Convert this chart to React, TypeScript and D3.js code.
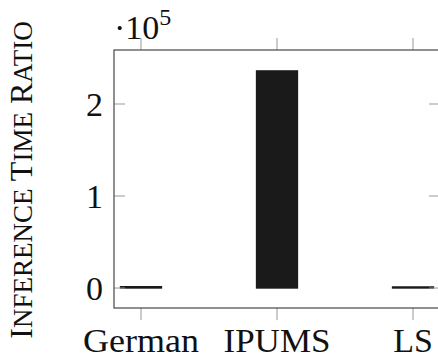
import * as d3 from "d3";

const categories = ["German", "IPUMS", "LS"];
const ratios = [1500, 236000, 1200];
const yTicks = [0, 1, 2];
const yLabelWords = ["Inference", "Time", "Ratio"];

const W = 438;
const H = 360;
const frame = { left: 114, right: 440, top: 50, bottom: 308 };
const font = "'Liberation Serif', 'Times New Roman', serif";
const barColor = "#1a1a1a";

export default function App() {
  const x = d3
    .scalePoint<string>()
    .domain(categories)
    .range([frame.left, frame.right])
    .padding(0.1985);
  // y in units of 1e5
  const y = d3.scaleLinear().domain([-0.217, 2.587]).range([frame.bottom, frame.top]);
  const barW = 41;

  return (
    <svg
      width={W}
      height={H}
      style={{ position: "absolute", left: 0, top: 0, background: "#fff" }}
      fontFamily={font}
    >
      {/* bars */}
      {categories.map((c, i) => {
        const v = ratios[i] / 1e5;
        const top = y(v);
        return (
          <rect
            key={c}
            x={x(c)! - barW / 2}
            y={top}
            width={barW}
            height={y(0) - top}
            fill={barColor}
            stroke={barColor}
            strokeWidth={1.3}
          />
        );
      })}

      {/* y ticks, inside on both sides */}
      {yTicks.map((t) => (
        <g key={t}>
          <line x1={frame.left} x2={frame.left + 11} y1={y(t)} y2={y(t)} stroke="#999" strokeWidth={1} />
          <line x1={frame.right - 11} x2={frame.right} y1={y(t)} y2={y(t)} stroke="#999" strokeWidth={1} />
          <text x={103} y={y(t)} dy="0.34em" textAnchor="end" fontSize={34} fill="#111">
            {t}
          </text>
        </g>
      ))}

      {/* x ticks, outside top and bottom */}
      {categories.map((c) => (
        <g key={c}>
          <line x1={x(c)} x2={x(c)} y1={frame.bottom} y2={frame.bottom + 12} stroke="#999" strokeWidth={1} />
          <line x1={x(c)} x2={x(c)} y1={frame.top - 12} y2={frame.top} stroke="#999" strokeWidth={1} />
          <text
            x={x(c)}
            y={352}
            textAnchor="middle"
            fontSize={34}
            fill="#111"
            textLength={c === "German" ? 116 : c === "IPUMS" ? 107 : undefined}
            lengthAdjust="spacingAndGlyphs"
          >
            {c}
          </text>
        </g>
      ))}

      {/* frame */}
      <rect
        x={frame.left}
        y={frame.top}
        width={frame.right - frame.left}
        height={frame.bottom - frame.top}
        fill="none"
        stroke="#555"
        strokeWidth={1.3}
      />

      {/* scale factor */}
      <text x={114} y={39} fontSize={34} fill="#111">
        <tspan>·10</tspan>
        <tspan dy={-14} fontSize={24}>5</tspan>
      </text>

      {/* y axis label, manual small caps */}
      <text transform={`translate(32, 180) rotate(-90)`} textAnchor="middle" fill="#111">
        {yLabelWords.map((w, i) => (
          <tspan key={w}>
            <tspan fontSize={32}>{(i > 0 ? " " : "") + w[0]}</tspan>
            <tspan fontSize={27}>{w.slice(1).toUpperCase()}</tspan>
          </tspan>
        ))}
      </text>
    </svg>
  );
}
